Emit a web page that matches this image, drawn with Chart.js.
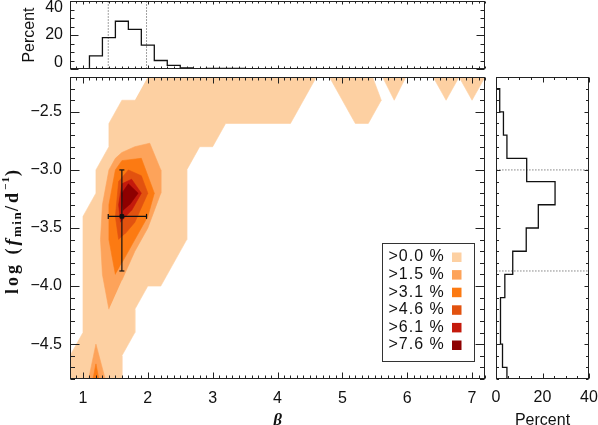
<!DOCTYPE html>
<html>
<head>
<meta charset="utf-8">
<script src="https://cdn.jsdelivr.net/npm/chart.js@4.4.1/dist/chart.umd.min.js"></script>
<style>
  body { margin: 0; background: #fff; }
  #wrap { position: relative; width: 598px; height: 425px; }
  #wrap canvas { position: absolute; left: 0; top: 0; }
</style>
</head>
<body>
<div id="wrap">
  <canvas id="main" width="598" height="425"></canvas>
  <canvas id="top" width="598" height="425"></canvas>
  <canvas id="side" width="598" height="425"></canvas>
</div>
<script>
// tick labels
const betaTicks = [1, 2, 3, 4, 5, 6, 7];
const logfTicks = [-4.5, -4.0, -3.5, -3.0, -2.5];
const pctTicks = [0, 20, 40];

// contour levels (percent) and fills
const levels = [0.0, 1.5, 3.1, 4.6, 6.1, 7.6];
const levelColors = ['#fdd0a2', '#fda35a', '#fc7a12', '#e2520f', '#c41a0c', '#8e0000'];

// filled contour regions, [beta, log fmin] vertices
const lvl0 = [
  [[2.1,-2.1],[4.7,-2.1],[4.2,-2.6],[3.2,-2.6],[3.0,-2.8],[2.8,-2.8],[2.6,-3.0],[2.6,-3.6],[2.2,-4.0],[2.0,-4.0],[1.8,-4.2],[1.8,-4.4],[1.6,-4.6],[1.6,-4.9],[0.7,-4.9],[0.7,-4.7],[1.0,-4.4],[1.0,-3.4],[1.2,-3.2],[1.2,-3.0],[1.4,-2.8],[1.4,-2.6],[1.6,-2.4],[1.8,-2.4]],
  [[4.7,-2.1],[5.2,-2.6],[5.4,-2.6],[5.6,-2.4],[5.4,-2.1]],
  [[5.53,-2.1],[5.8,-2.4],[6.07,-2.1]],
  [[6.3,-2.1],[6.6,-2.4],[6.9,-2.1]],
  [[6.7,-2.1],[7.0,-2.4],[7.3,-2.1]]
];
const lvl1 = [
  [[1.4,-4.2],[1.3,-3.9],[1.27,-3.6],[1.3,-3.3],[1.4,-3.0],[1.5,-2.9],[1.6,-2.85],[1.8,-2.8],[2.03,-2.77],[2.2,-3.0],[2.2,-3.2],[2.0,-3.5],[1.8,-3.7],[1.6,-3.95]],
  [[1.05,-4.9],[1.2,-4.5],[1.39,-4.9]]
];
const lvl2 = [
  [[1.5,-3.9],[1.4,-3.6],[1.4,-3.3],[1.5,-3.0],[1.6,-2.92],[1.9,-2.9],[2.1,-3.2],[2.0,-3.4],[1.8,-3.6],[1.6,-3.8]],
  [[1.12,-4.9],[1.2,-4.67],[1.28,-4.9]]
];
const lvl3 = [
  [[1.55,-3.6],[1.5,-3.4],[1.55,-3.1],[1.7,-3.0],[1.9,-3.05],[2.0,-3.2],[1.8,-3.45],[1.65,-3.55]]
];
const lvl4 = [
  [[1.58,-3.45],[1.55,-3.3],[1.6,-3.12],[1.75,-3.08],[1.9,-3.2],[1.75,-3.35]]
];
const lvl5 = [
  [[1.62,-3.35],[1.6,-3.2],[1.7,-3.12],[1.85,-3.2],[1.72,-3.3]]
];

// best value and error cross
const betaBest = 1.6, betaLo = 1.39, betaHi = 1.98;
const logfBest = -3.4, logfLo = -3.87, logfHi = -3.0;

// marginal histograms (percent per bin)
const betaEdges = [0.7,0.9,1.1,1.3,1.5,1.7,1.9,2.1,2.3,2.5,2.7,2.9,3.1,3.3,3.5,3.7,3.9,4.1,4.3,4.5,4.7,4.9,5.1,5.3,5.5,5.7,5.9,6.1,6.3,6.5,6.7,6.9,7.1,7.3];
const betaPct = [0,0,7.7,18.5,28.1,23.3,14.0,5.0,2.1,0.6,0,0.3,0.3,0.3,0,0,0,0,0,0,0,0,0,0,0,0,0,0,0,0,0,0,0];
const logfEdges = [-4.9,-4.7,-4.5,-4.3,-4.1,-3.9,-3.7,-3.5,-3.3,-3.1,-2.9,-2.7,-2.5,-2.3,-2.1];
const logfPct = [4.7,2.8,1.8,2.0,3.8,7.2,13.0,18.2,25.4,13.2,4.7,3.2,1.6,0];

const ink = '#111';
const sans = '"Liberation Sans", Arial, sans-serif';
const serif = '"Liberation Serif", "DejaVu Serif", serif';
const tickFont = { family: sans, size: 16 };

function steps(edges, vals, flip) {
  const pts = [];
  vals.forEach((v, i) => {
    pts.push(flip ? { x: v, y: edges[i] } : { x: edges[i], y: v });
    pts.push(flip ? { x: v, y: edges[i + 1] } : { x: edges[i + 1], y: v });
  });
  return pts;
}

function setTicks(list) {
  return s => { s.ticks = list.map(v => ({ value: v })); };
}

function fixSize(w, h) {
  return s => {
    if (w != null) s.width = w;
    if (h != null) s.height = h;
    s.paddingLeft = s.paddingRight = s.paddingTop = s.paddingBottom = 0;
  };
}

const minus = v => (v < 0 ? '\u2212' : '') + Math.abs(v).toFixed(1);

// IDL style box with inward ticks on all four sides
const idlFrame = {
  id: 'idlFrame',
  afterDatasetsDraw(chart, args, o) {
    const { ctx, chartArea: a, scales: { x, y } } = chart;
    const L = Math.round(a.left) + 0.5, R = Math.round(a.right) - 0.5;
    const T = Math.round(a.top) + 0.5, B = Math.round(a.bottom) - 0.5;
    ctx.save();
    ctx.strokeStyle = '#222';
    ctx.lineWidth = 1;
    ctx.beginPath();
    const run = (scale, major, minor, lens, fn) => {
      const start = Math.ceil(scale.min / minor - 1e-6);
      for (let k = start; k * minor <= scale.max + 1e-6; k++) {
        const v = k * minor;
        const isMajor = Math.abs(v / major - Math.round(v / major)) < 1e-6;
        fn(Math.round(scale.getPixelForValue(v)) + 0.5, isMajor ? lens[0] : lens[1]);
      }
    };
    run(x, o.xMajor, o.xMinor, o.xLen, (p, len) => {
      ctx.moveTo(p, B); ctx.lineTo(p, B - len);
      ctx.moveTo(p, T); ctx.lineTo(p, T + len);
    });
    run(y, o.yMajor, o.yMinor, o.yLen, (p, len) => {
      ctx.moveTo(L, p); ctx.lineTo(L + len, p);
      ctx.moveTo(R, p); ctx.lineTo(R - len, p);
    });
    ctx.stroke();
    ctx.strokeRect(L, T, R - L, B - T);
    ctx.restore();
  }
};

// y title with subscript / superscript, legend box, top panel labels
const extras = {
  id: 'extras',
  afterDraw(chart, args, o) {
    const ctx = chart.ctx;
    if (o.yTitle) {
      ctx.save();
      ctx.translate(13, 232);
      ctx.rotate(-Math.PI / 2);
      const parts = [
        ['log (', 'bold 18px ' + serif, 0, 3],
        ['f', 'italic bold 19px ' + serif, 0, 2],
        ['min', 'bold 13px ' + serif, 5, 1.5],
        ['/d', 'bold 18px ' + serif, 0, 3],
        ['\u22121', 'bold 11px ' + serif, -7, 1],
        [')', 'bold 18px ' + serif, 0, 0]
      ];
      const width = p => { ctx.font = p[1]; ctx.letterSpacing = p[3] + 'px'; return ctx.measureText(p[0]).width; };
      let total = 0;
      parts.forEach(p => { total += width(p); });
      let px = -total / 2;
      ctx.textBaseline = 'middle';
      ctx.fillStyle = ink;
      parts.forEach(p => {
        const w = width(p);
        ctx.fillText(p[0], px, p[2]);
        px += w;
      });
      ctx.restore();
    }
    if (o.legend) {
      const a = chart.chartArea;
      const bx = a.right - 103, by = a.bottom - 136, bw = 92, bh = 118;
      ctx.save();
      ctx.fillStyle = '#fff';
      ctx.fillRect(bx, by, bw, bh);
      ctx.strokeStyle = '#333';
      ctx.lineWidth = 1;
      ctx.strokeRect(Math.round(bx) + 0.5, Math.round(by) + 0.5, bw, bh);
      ctx.font = '16px ' + sans;
      ctx.letterSpacing = '1px';
      ctx.textBaseline = 'middle';
      levels.forEach((lv, i) => {
        const cy = by + 14 + i * 17.6;
        ctx.fillStyle = ink;
        ctx.fillText('>' + lv.toFixed(1) + ' %', bx + 6.5, cy);
        ctx.fillStyle = levelColors[i];
        ctx.fillRect(bx + 70, cy - 4.5, 9.5, 9.5);
      });
      ctx.restore();
    }
    if (o.pctLabels) {
      const { chartArea: a, scales: { y } } = chart;
      ctx.save();
      ctx.font = '16px ' + sans;
      ctx.textAlign = 'right';
      ctx.textBaseline = 'middle';
      ctx.fillStyle = ink;
      pctTicks.forEach(v => {
        const p = Math.min(Math.max(y.getPixelForValue(v), a.top + 7), a.bottom - 6);
        ctx.fillText(String(v), a.left - 7, p);
      });
      ctx.restore();
    }
  }
};

Chart.register(idlFrame, extras);

function baseOptions(pad, frame, extra) {
  return {
    responsive: false,
    animation: false,
    devicePixelRatio: 1,
    events: [],
    layout: { padding: pad },
    plugins: { legend: { display: false }, tooltip: { enabled: false }, idlFrame: frame, extras: extra }
  };
}

// ---- main contour panel ----
const contourSets = [];
[lvl0, lvl1, lvl2, lvl3, lvl4, lvl5].forEach((polys, k) => {
  polys.forEach(p => contourSets.push({
    data: p.map(([x, y]) => ({ x, y })),
    backgroundColor: levelColors[k],
    borderColor: levelColors[k],
    borderWidth: 0.6,
    fill: 'shape',
    pointRadius: 0,
    clip: 0,
    order: 20 - k
  }));
});

const crossSets = [
  {
    data: [{ x: betaLo, y: logfBest }, { x: betaHi, y: logfBest }],
    borderColor: ink, borderWidth: 1.2, pointStyle: 'line', rotation: 90,
    pointRadius: 2.5, pointBorderColor: ink, pointBorderWidth: 1.2, fill: false, order: -1
  },
  {
    data: [{ x: betaBest, y: logfHi }, { x: betaBest, y: logfLo }],
    borderColor: ink, borderWidth: 1.2, pointStyle: 'line', rotation: 0,
    pointRadius: 2.5, pointBorderColor: ink, pointBorderWidth: 1.2, fill: false, order: -1
  },
  {
    data: [{ x: betaBest, y: logfBest }],
    showLine: false, pointStyle: 'rect', pointRadius: 2.5,
    pointBackgroundColor: ink, pointBorderColor: ink, fill: false, order: -2
  }
];

const mainOpts = baseOptions({ left: 0, top: 77, right: 113, bottom: 0 },
  { xMajor: 1, xMinor: 0.1, xLen: [6, 3], yMajor: 0.5, yMinor: 0.1, yLen: [9, 4.5] },
  { yTitle: true, legend: true });
mainOpts.scales = {
  x: {
    type: 'linear', min: 0.8, max: 7.2,
    afterBuildTicks: setTicks(betaTicks), afterFit: fixSize(null, 46),
    grid: { display: false, drawTicks: false }, border: { display: false },
    ticks: { font: tickFont, color: ink, padding: 10, maxRotation: 0, autoSkip: false },
    title: {
      display: true, text: '\u03b2', color: ink,
      font: { family: serif, style: 'italic', weight: 'bold', size: 17, lineHeight: 1 },
      padding: { top: 0, bottom: -4 }
    }
  },
  y: {
    type: 'linear', min: -4.8, max: -2.2,
    afterBuildTicks: setTicks(logfTicks), afterFit: fixSize(70, null),
    grid: { display: false, drawTicks: false }, border: { display: false },
    ticks: { font: tickFont, color: ink, padding: 8, callback: minus, autoSkip: false }
  }
};
new Chart(document.getElementById('main'), {
  type: 'line',
  data: { datasets: contourSets.concat(crossSets) },
  options: mainOpts
});

// ---- top histogram (beta) ----
const topOpts = baseOptions({ left: 0, top: 1, right: 113, bottom: 356 },
  { xMajor: 1, xMinor: 0.1, xLen: [3, 2], yMajor: 20, yMinor: 5, yLen: [8, 4] },
  { pctLabels: true });
topOpts.scales = {
  x: { type: 'linear', min: 0.8, max: 7.2, display: false },
  y: {
    type: 'linear', min: 0, max: 40,
    afterBuildTicks: setTicks(pctTicks), afterFit: fixSize(70, null),
    grid: { display: false, drawTicks: false }, border: { display: false },
    ticks: { display: false },
    title: {
      display: true, text: 'Percent', color: ink,
      font: { family: sans, size: 16 },
      padding: { top: 20 }
    }
  }
};
new Chart(document.getElementById('top'), {
  type: 'line',
  data: {
    datasets: [
      { data: steps(betaEdges, betaPct, false), borderColor: ink, borderWidth: 1.3, pointRadius: 0, fill: false, clip: 0 },
      { data: [{ x: betaLo, y: -5 }, { x: betaLo, y: 50 }], borderColor: '#444', borderWidth: 1, borderDash: [1, 2], pointRadius: 0, fill: false, clip: 0 },
      { data: [{ x: betaHi, y: -5 }, { x: betaHi, y: 50 }], borderColor: '#444', borderWidth: 1, borderDash: [1, 2], pointRadius: 0, fill: false, clip: 0 }
    ]
  },
  options: topOpts
});

// ---- side histogram (log f_min) ----
const sideOpts = baseOptions({ left: 496, top: 77, right: 9, bottom: 0 },
  { xMajor: 20, xMinor: 5, xLen: [5, 2.5], yMajor: 0.5, yMinor: 0.1, yLen: [4, 2.5] },
  {});
sideOpts.scales = {
  x: {
    type: 'linear', min: 0, max: 40,
    afterBuildTicks: setTicks(pctTicks), afterFit: fixSize(null, 46),
    grid: { display: false, drawTicks: false }, border: { display: false },
    ticks: { font: tickFont, color: ink, padding: 9, maxRotation: 0, autoSkip: false },
    title: {
      display: true, text: 'Percent', color: ink,
      font: { family: sans, size: 16, lineHeight: 1 },
      padding: { top: 0, bottom: -4 }
    }
  },
  y: { type: 'linear', min: -4.8, max: -2.2, display: false }
};
new Chart(document.getElementById('side'), {
  type: 'line',
  data: {
    datasets: [
      { data: steps(logfEdges, logfPct, true), borderColor: ink, borderWidth: 1.3, pointRadius: 0, fill: false, clip: 0 },
      { data: [{ x: -5, y: logfHi }, { x: 50, y: logfHi }], borderColor: '#444', borderWidth: 1, borderDash: [1, 2], pointRadius: 0, fill: false, clip: 0 },
      { data: [{ x: -5, y: logfLo }, { x: 50, y: logfLo }], borderColor: '#444', borderWidth: 1, borderDash: [1, 2], pointRadius: 0, fill: false, clip: 0 }
    ]
  },
  options: sideOpts
});
</script>
</body>
</html>
